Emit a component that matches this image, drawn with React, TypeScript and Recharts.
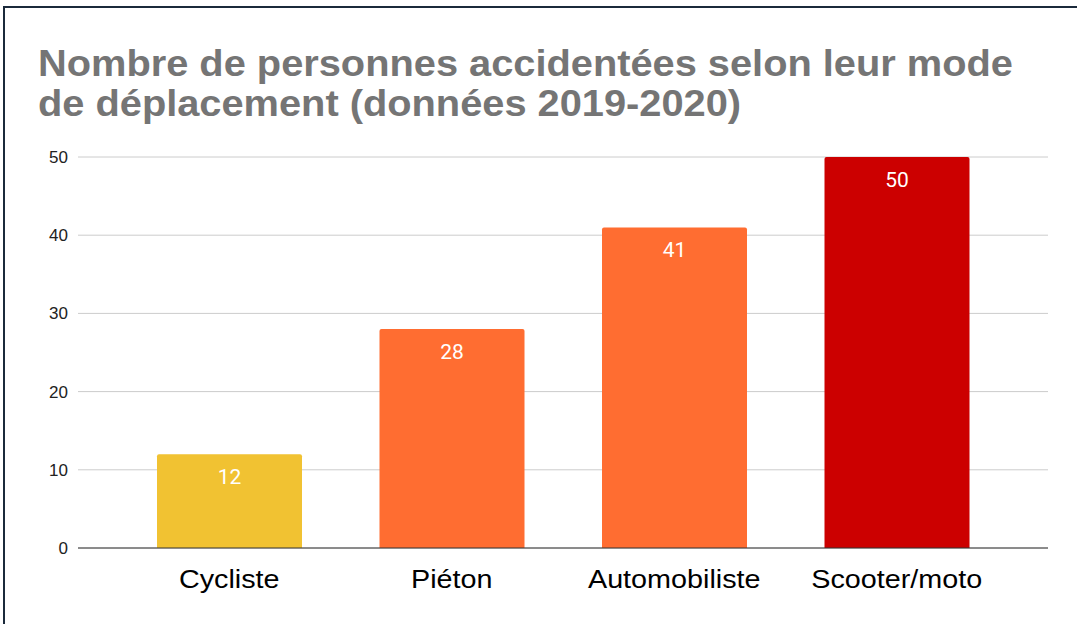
import React from "react";
import { BarChart, Bar, XAxis, YAxis, CartesianGrid, LabelList, Cell } from "recharts";

const categories = ["Cycliste", "Piéton", "Automobiliste", "Scooter/moto"];
const values = [12, 28, 41, 50];
const colors = ["#f1c232", "#ff6d31", "#ff6d31", "#cc0000"];
const yTicks = [0, 10, 20, 30, 40, 50];
const titleLines = [
  "Nombre de personnes accidentées selon leur mode",
  "de déplacement (données 2019-2020)",
];

const data = categories.map((name, i) => ({ name, value: values[i] }));

const XTick = (props: any) => {
  const { x, y, payload } = props;
  return (
    <g transform={`translate(${x},${y})`}>
      <text
        x={0}
        y={0}
        dy="0.71em"
        textAnchor="middle"
        transform="scale(1.15,1)"
        fill="#000000"
        style={{ fontSize: 25, fontFamily: "'Liberation Sans', Arial, sans-serif" }}
      >
        {payload.value}
      </text>
    </g>
  );
};

export default function App() {
  return (
    <div style={{ position: "absolute", left: 0, top: 0, width: 1077, height: 624, background: "#fff", overflow: "hidden" }}>
      <div
        style={{
          position: "absolute",
          left: 3,
          top: 6,
          width: 1100,
          height: 700,
          borderLeft: "2px solid #1b2a3b",
          borderTop: "2px solid #1b2a3b",
        }}
      />
      <div
        style={{
          position: "absolute",
          left: 38,
          top: 44,
          fontFamily: "'Liberation Sans', Arial, sans-serif",
          fontWeight: "bold",
          fontSize: 36,
          lineHeight: "40px",
          color: "#757575",
          whiteSpace: "nowrap",
          transform: "scaleX(1.105)",
          transformOrigin: "left top",
        }}
      >
        {titleLines.map((l, i) => (
          <div key={i}>{l}</div>
        ))}
      </div>
      <div style={{ position: "absolute", left: 0, top: 0 }}>
        <BarChart
          width={1077}
          height={624}
          data={data}
          margin={{ top: 157, right: 29, bottom: 16, left: 0 }}
        >
          <CartesianGrid vertical={false} stroke="#cccccc" />
          <XAxis
            dataKey="name"
            padding={{ left: 40, right: 40 }}
            axisLine={{ stroke: "#333333" }}
            tickLine={false}
            tickSize={0}
            tickMargin={22}
            height={60}
            tick={<XTick />}
          />
          <YAxis
            domain={[0, 50]}
            ticks={yTicks}
            width={78}
            axisLine={false}
            tickLine={false}
            tickSize={0}
            tickMargin={10}
            tick={{ fontSize: 17, fill: "#222222", fontFamily: "'Liberation Sans', Arial, sans-serif" }}
          />
          <Bar dataKey="value" barSize={145} radius={[2, 2, 0, 0]} isAnimationActive={false}>
            {data.map((d, i) => (
              <Cell key={d.name} fill={colors[i]} />
            ))}
            <LabelList
              dataKey="value"
              position="insideTop"
              offset={15}
              fill="#ffffff"
              style={{ fontSize: 21, fontFamily: "Roboto, sans-serif" }}
            />
          </Bar>
        </BarChart>
      </div>
    </div>
  );
}
